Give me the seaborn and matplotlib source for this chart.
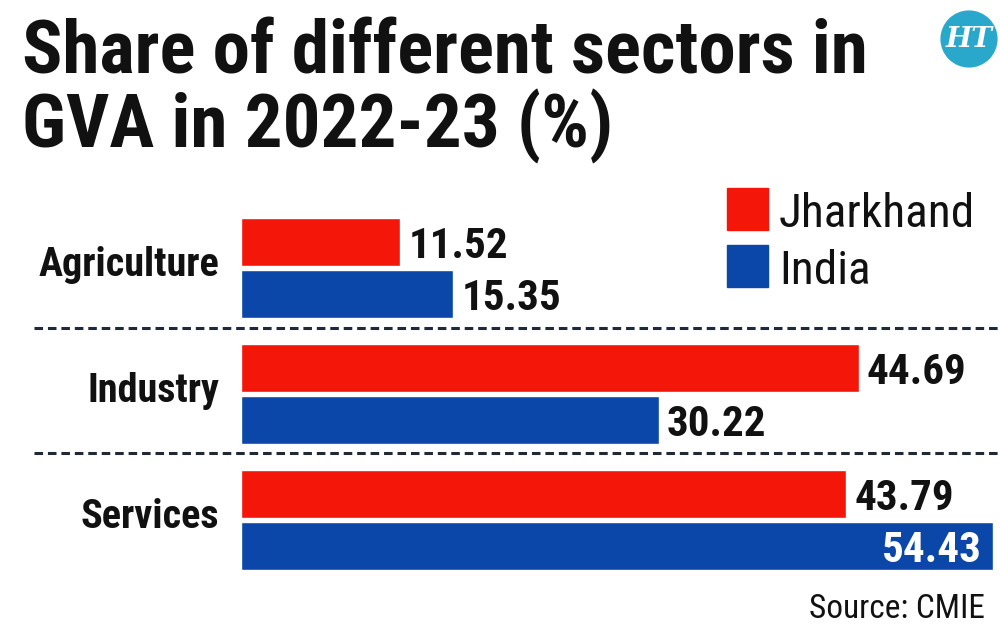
import matplotlib
matplotlib.use("Agg")
import matplotlib.pyplot as plt
from matplotlib import font_manager as fm
from matplotlib.patches import Circle, Rectangle
import seaborn as sns
import pandas as pd

sectors = ["Agriculture", "Industry", "Services"]
regions = ["Jharkhand", "India"]
jharkhand = [11.52, 44.69, 43.79]
india = [15.35, 30.22, 54.43]
title_lines = ["Share of different sectors in", "GVA in 2022-23 (%)"]
source = "Source: CMIE"

RED = "#f5160a"
BLUE = "#0b47a8"
INK = "#111111"

sns.set_theme(style="white")

names = {f.name for f in fm.fontManager.ttflist}
fam = "Roboto Condensed" if "Roboto Condensed" in names else "Roboto"
plt.rcParams["font.family"] = [fam, "DejaVu Sans"]

df = pd.DataFrame({
    "sector": sectors * 2,
    "region": [regions[0]] * 3 + [regions[1]] * 3,
    "value": jharkhand + india,
})

W, H = 1000, 631
fig = plt.figure(figsize=(10, 6.31), dpi=100)
fig.patch.set_facecolor("white")
ax = fig.add_axes([241 / W, 1 - 583 / H, 759 / W, 378 / H])
sns.barplot(data=df, y="sector", x="value", hue="region", orient="h",
            palette=[RED, BLUE], width=0.82, gap=0.06, saturation=1,
            legend=False, ax=ax)
ax.set_xlim(0, 759 / 13.82)
ax.set_ylim(2.5, -0.5)
ax.axis("off")

# separators
for yy in [0.48, 1.47]:
    ax.axhline(yy, xmin=-(241 - 34) / 759, xmax=1.0, color="#1f2a36", lw=2.2,
               ls=(0, (2.8, 1.6)), clip_on=False)

# category labels
for i, s in enumerate(sectors):
    ax.text(-(241 - 219) / 759, i + 0.06, s, transform=ax.get_yaxis_transform(),
            ha="right", va="baseline", fontsize=29, fontweight="bold", color=INK)

# value labels
vals = [jharkhand, india]
for ci, cont in enumerate(ax.containers):
    for j, p in enumerate(cont.patches):
        v = vals[ci][j]
        w = p.get_width()
        yc = p.get_y() + p.get_height() / 2
        if ci == 1 and j == 2:
            ax.text(w - 0.8, yc, f"{v:.2f}", ha="right", va="center_baseline",
                    fontsize=31, fontweight="bold", color="white")
        else:
            ax.text(w + 0.6, yc, f"{v:.2f}", ha="left", va="center_baseline",
                    fontsize=31, fontweight="bold", color=INK)

# title
fig.text(22 / W, 1 - 73 / H, title_lines[0], ha="left", va="baseline",
         fontsize=54, fontweight="heavy", color=INK)
fig.text(22 / W, 1 - 147 / H, title_lines[1], ha="left", va="baseline",
         fontsize=54, fontweight="heavy", color=INK)

# legend
for k, (lab, col) in enumerate(zip(regions, [RED, BLUE])):
    y0 = 188 + k * 57
    fig.patches.append(Rectangle((727 / W, 1 - (y0 + 42) / H), 41 / W, 42 / H,
                                 transform=fig.transFigure, color=col))
    fig.text(779 / W, 1 - (y0 + 39) / H, lab, ha="left", va="baseline",
             fontsize=34, color=INK)

# source
fig.text(985 / W, 1 - 618 / H, source, ha="right", va="baseline",
         fontsize=24, color=INK)

# logo
logo_ax = fig.add_axes([(969 - 30) / W, 1 - (39 + 30) / H, 60 / W, 60 / H])
logo_ax.set_xlim(-1, 1)
logo_ax.set_ylim(-1, 1)
logo_ax.axis("off")
logo_ax.add_patch(Circle((0, 0), 0.93, color="#2aa8cb"))
logo_ax.text(0, -0.03, "HT", ha="center", va="center", color="white",
             fontsize=20, fontweight="bold", fontstyle="italic",
             family=["DejaVu Serif"])

fig.savefig("out.png", dpi=100, facecolor="white")
